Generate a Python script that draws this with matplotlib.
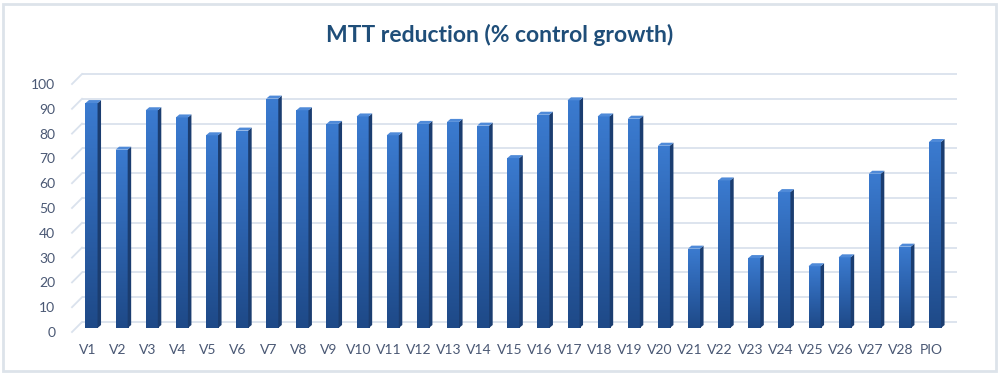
import matplotlib
matplotlib.use("Agg")
import matplotlib.pyplot as plt
import numpy as np
from matplotlib.patches import Polygon, Rectangle
from matplotlib.colors import LinearSegmentedColormap

categories = ["V1", "V2", "V3", "V4", "V5", "V6", "V7", "V8", "V9", "V10",
              "V11", "V12", "V13", "V14", "V15", "V16", "V17", "V18", "V19", "V20",
              "V21", "V22", "V23", "V24", "V25", "V26", "V27", "V28", "PIO"]
values = [90.7, 71.9, 87.8, 84.9, 77.7, 79.6, 92.5, 87.8, 82.3, 85.3,
          77.7, 82.3, 83.1, 81.6, 68.5, 86.0, 91.8, 85.3, 84.4, 73.5,
          32.0, 59.5, 28.2, 54.8, 24.9, 28.5, 62.2, 32.8, 75.0]
yticks = list(range(0, 101, 10))
title = "MTT reduction (% control growth)"

plt.rcParams['font.family'] = ['Lato', 'DejaVu Sans']

W, H = 1000, 375
fig = plt.figure(figsize=(W / 100, H / 100), dpi=100)
fig.patch.set_facecolor('white')

xl, xr = -0.515, 28.52
yb, yt = 0, 100
ax_left, ax_bottom = 72 / W, 43 / H
ax_w, ax_h = (946.7 - 72) / W, 248 / H
ax = fig.add_axes([ax_left, ax_bottom, ax_w, ax_h])
ax.set_xlim(xl, xr)
ax.set_ylim(yb, yt)

ppx = ax_w * W / (xr - xl)
ppy = ax_h * H / (yt - yb)

# back wall gridlines (3D look)
grid_c = '#dae2ed'
gdx, gdy = 10 / ppx, 10 / ppy
for v in yticks:
    ax.plot([xl + gdx, xr + gdx], [v + gdy, v + gdy], color=grid_c, lw=1.3,
            zorder=0, clip_on=False, solid_capstyle='butt')
    ax.plot([xl, xl + gdx], [v, v + gdy], color=grid_c, lw=1.3,
            zorder=0, clip_on=False)

# bars
x = np.arange(len(categories))
bw = 0.40
sx, sy = 4 / ppx, 4 / ppy          # bar shift to mid-depth
dx, dy = 3.5 / ppx, 3 / ppy        # bar depth
cmap = LinearSegmentedColormap.from_list('b', ['#1e4987', '#2c62ad', '#3b7bd0'])
grad = np.linspace(0, 1, 256).reshape(-1, 1)

bars = ax.bar(x + sx, values, width=bw, bottom=sy, color='none',
              edgecolor='none', zorder=2)
for b, xi, v in zip(bars, x, values):
    x0 = b.get_x()
    x1 = x0 + b.get_width()
    y0 = b.get_y()
    y1 = y0 + b.get_height()
    im = ax.imshow(grad, aspect='auto', cmap=cmap, origin='lower',
                   extent=[x0, x1, y0, y1], zorder=2, interpolation='bilinear')
    im.set_clip_path(b)
    # side face
    side = Polygon([[x1, y0], [x1 + dx, y0 + dy], [x1 + dx, y1 + dy], [x1, y1]],
                   closed=True, facecolor='#1b3d70', edgecolor='none', zorder=3)
    ax.add_patch(side)
    # top face
    top = Polygon([[x0, y1], [x0 + dx, y1 + dy], [x1 + dx, y1 + dy], [x1, y1]],
                  closed=True, facecolor='#4f8ad8', edgecolor='none', zorder=3)
    ax.add_patch(top)

ax.set_xlim(xl, xr)
ax.set_ylim(yb, yt)

for s in ax.spines.values():
    s.set_visible(False)
ax.set_xticks(x)
ax.set_xticklabels(categories)
ax.set_yticks(yticks)
ax.set_yticklabels([str(t) for t in yticks])
ax.tick_params(axis='both', length=0, colors='#4a5874', labelsize=10)
ax.tick_params(axis='y', pad=12)
ax.tick_params(axis='x', pad=9)
ax.set_facecolor('none')

fig.text(0.5, 1 - 35 / H, title, ha='center', va='center', fontsize=16.5,
         fontweight='bold', color='#1f4e79')

fig.patches.append(Rectangle((3 / W, 4 / H), 993 / W, 367 / H, transform=fig.transFigure,
                             fill=False, edgecolor='#dde3ea', lw=2))

fig.savefig('out.png', dpi=100, facecolor='white')
